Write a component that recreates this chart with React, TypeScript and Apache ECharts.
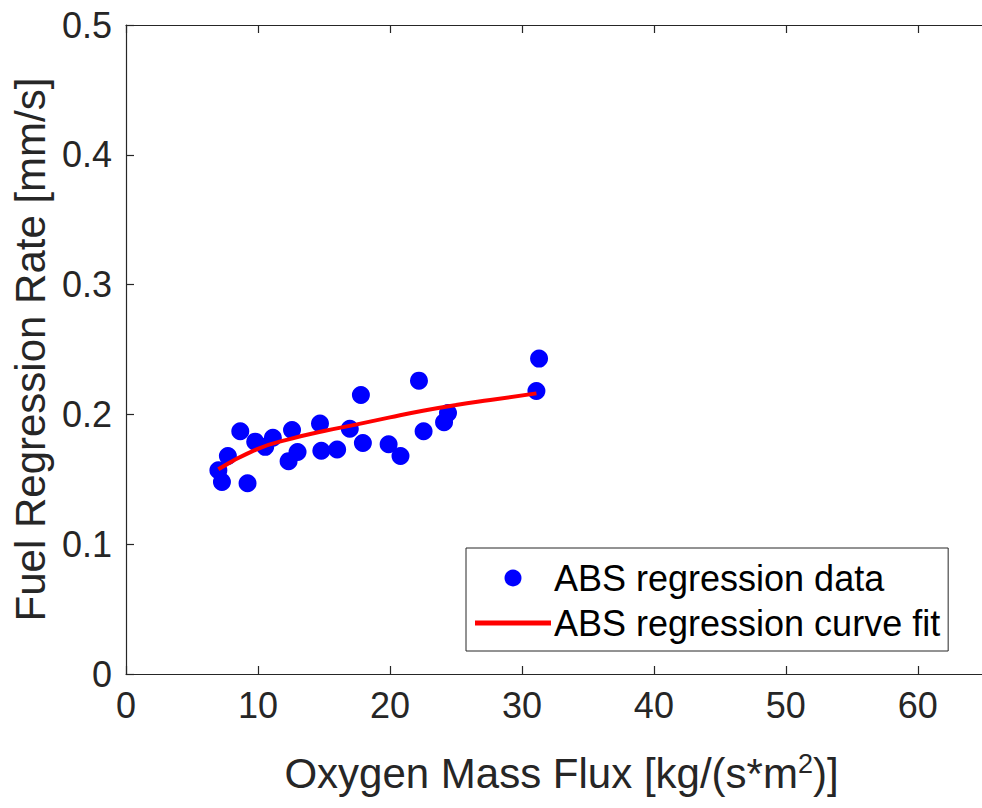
import React, { useEffect, useRef } from "react";
import * as echarts from "echarts";

// ABS regression data: oxygen mass flux [kg/(s*m^2)] and fuel regression rate [mm/s]
const fluxData = [7.0, 7.27, 7.72, 8.66, 9.21, 9.79, 10.55, 11.13, 12.58, 12.32, 13.0, 14.7, 14.8, 16.0, 16.96, 17.8, 17.95, 19.9, 20.8, 22.2, 22.55, 24.1, 24.4, 31.1, 31.3];
const rateData = [0.157, 0.148, 0.168, 0.187, 0.147, 0.179, 0.175, 0.182, 0.188, 0.164, 0.171, 0.193, 0.172, 0.173, 0.189, 0.215, 0.178, 0.177, 0.168, 0.226, 0.187, 0.194, 0.201, 0.218, 0.243];

// Curve fit
const fitFlux = [7.0, 9.9, 12.4, 15.0, 17.5, 20.0, 22.5, 25.0, 27.6, 31.1];
const fitRate = [0.1577, 0.1731, 0.181, 0.1872, 0.1923, 0.1977, 0.2028, 0.2072, 0.2111, 0.2162];

const xTicks = [0, 10, 20, 30, 40, 50, 60];
const yTicks = [0, 0.1, 0.2, 0.3, 0.4, 0.5];

const seriesNames = ["ABS regression data", "ABS regression curve fit"];

const AXIS_COLOR = "#262626";
const FONT = "'Liberation Sans', Arial, Helvetica, sans-serif";

export default function App() {
  const ref = useRef<HTMLDivElement>(null);

  useEffect(() => {
    if (!ref.current) return;
    const chart = echarts.init(ref.current, null, { renderer: "svg" });
    const scatterPts = fluxData.map((x, i) => [x, rateData[i]]);
    const fitPts = fitFlux.map((x, i) => [x, fitRate[i]]);

    chart.setOption({
      animation: false,
      backgroundColor: "#ffffff",
      textStyle: { fontFamily: FONT },
      grid: { left: 126, top: 25, width: 871, height: 649, containLabel: false },
      legend: {
        orient: "vertical",
        left: 466,
        top: 548,
        data: [
          { name: seriesNames[0], icon: "circle" },
          { name: seriesNames[1], icon: "path://M0,0 L76,0 L76,5 L0,5 Z" },
        ],
        itemWidth: 76,
        itemHeight: 17,
        itemGap: 9,
        padding: [12, 8, 10, 9],
        borderColor: AXIS_COLOR,
        borderWidth: 1,
        backgroundColor: "#ffffff",
        textStyle: { fontSize: 36, color: "#000000", fontFamily: FONT, lineHeight: 36, padding: [0, 0, 0, -2] },
      },
      xAxis: [
        {
          type: "value",
          position: "bottom",
          min: 0,
          max: 66,
          interval: 10,
          name: "Oxygen Mass Flux [kg/(s*m{sup|2})]",
          nameLocation: "middle",
          nameGap: 76,
          nameTextStyle: {
            fontSize: 42,
            color: AXIS_COLOR,
            fontFamily: FONT,
            rich: {
              sup: { fontSize: 27, color: AXIS_COLOR, fontFamily: FONT, verticalAlign: "top", padding: [0, 0, 20, 0] },
            },
          },
          axisLine: { show: true, lineStyle: { color: AXIS_COLOR, width: 1.2 } },
          axisTick: { show: true, inside: true, length: 8, lineStyle: { color: AXIS_COLOR, width: 1.2 } },
          axisLabel: {
            fontSize: 36,
            color: AXIS_COLOR,
            margin: 13,
            fontFamily: FONT,
            formatter: (v: number) => (xTicks.includes(v) ? String(v) : ""),
          },
          splitLine: { show: false },
        },
        {
          type: "value",
          position: "top",
          min: 0,
          max: 66,
          interval: 10,
          axisLine: { show: true, onZero: false, lineStyle: { color: AXIS_COLOR, width: 1.2 } },
          axisTick: { show: true, inside: true, length: 8, lineStyle: { color: AXIS_COLOR, width: 1.2 } },
          axisLabel: { show: false },
          splitLine: { show: false },
        },
      ],
      yAxis: [
        {
          type: "value",
          min: 0,
          max: 0.5,
          interval: 0.1,
          name: "Fuel Regression Rate [mm/s]",
          nameLocation: "middle",
          nameGap: 66,
          nameTextStyle: { fontSize: 42, color: AXIS_COLOR, fontFamily: FONT },
          axisLine: { show: true, lineStyle: { color: AXIS_COLOR, width: 1.2 } },
          axisTick: { show: true, inside: true, length: 8, lineStyle: { color: AXIS_COLOR, width: 1.2 } },
          axisLabel: {
            fontSize: 36,
            color: AXIS_COLOR,
            margin: 14,
            fontFamily: FONT,
            formatter: (v: number) => {
              const t = yTicks.find((y) => Math.abs(y - v) < 1e-9);
              return t === undefined ? "" : t === 0 ? "0" : t.toFixed(1);
            },
          },
          splitLine: { show: false },
        },
      ],
      series: [
        {
          name: seriesNames[0],
          type: "scatter",
          data: scatterPts,
          symbol: "circle",
          symbolSize: 18,
          itemStyle: { color: "#0000ff", opacity: 1 },
          z: 2,
        },
        {
          name: seriesNames[1],
          type: "line",
          data: fitPts,
          smooth: true,
          showSymbol: false,
          symbol: "none",
          lineStyle: { color: "#ff0000", width: 4 },
          itemStyle: { color: "#ff0000" },
          z: 3,
        },
      ],
    });
    return () => chart.dispose();
  }, []);

  return (
    <div
      ref={ref}
      style={{ position: "fixed", left: 0, top: 0, width: 1010, height: 808, background: "#fff" }}
    />
  );
}
